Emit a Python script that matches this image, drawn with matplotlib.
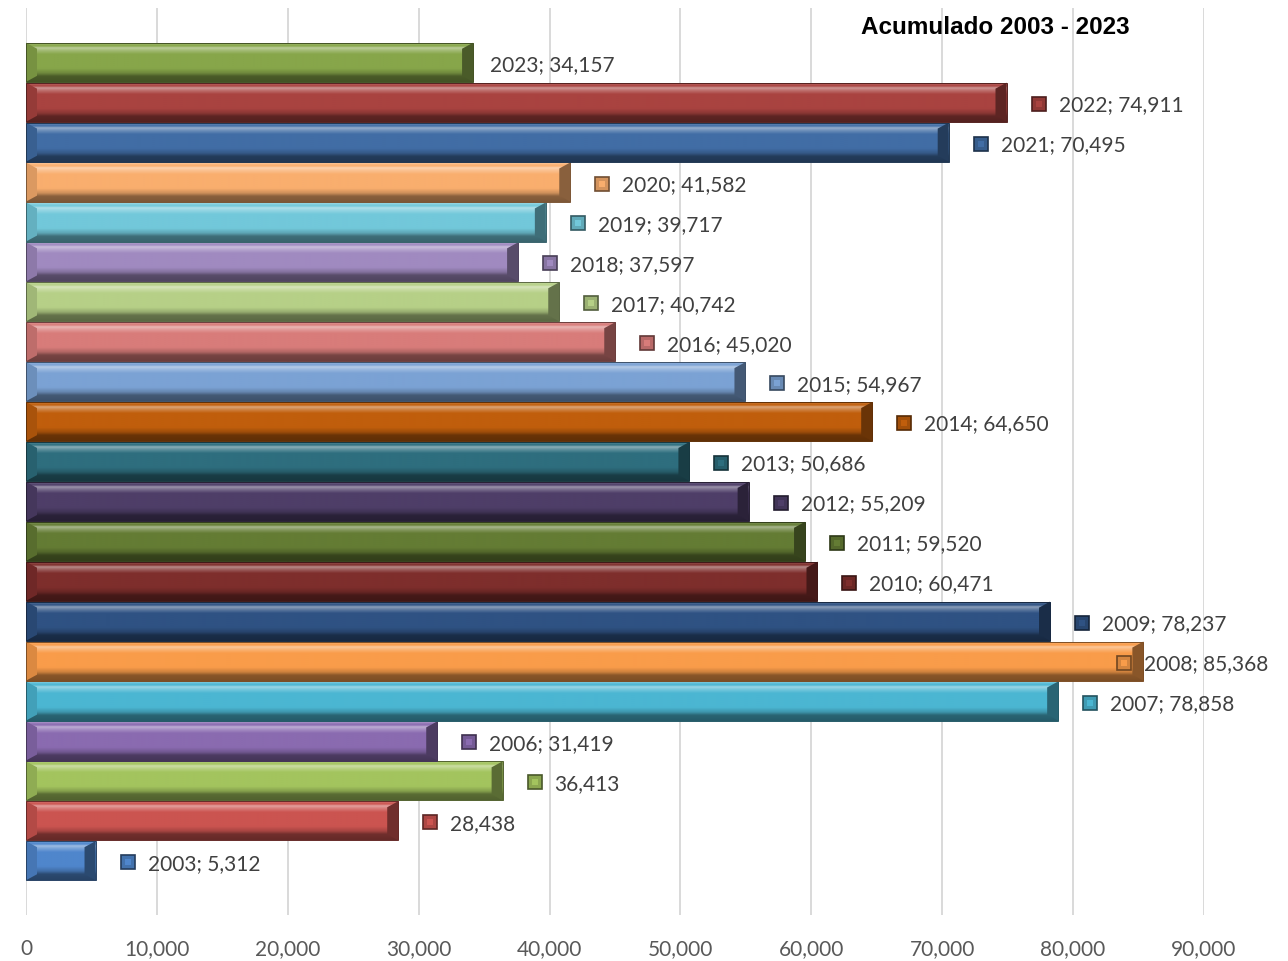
import matplotlib
matplotlib.use("Agg")
import matplotlib.pyplot as plt
import matplotlib.transforms as mtransforms
from matplotlib.colors import to_rgb
from matplotlib.patches import Polygon
import numpy as np

years = list(range(2003, 2024))
values = [5312, 28438, 36413, 31419, 78858, 85368, 78237, 60471, 59520, 55209,
          50686, 64650, 54967, 45020, 40742, 37597, 39717, 41582, 70495, 74911, 34157]
labels = ["2003; 5,312", "28,438", "36,413", "2006; 31,419", "2007; 78,858",
          "2008; 85,368", "2009; 78,237", "2010; 60,471", "2011; 59,520",
          "2012; 55,209", "2013; 50,686", "2014; 64,650", "2015; 54,967",
          "2016; 45,020", "2017; 40,742", "2018; 37,597", "2019; 39,717",
          "2020; 41,582", "2021; 70,495", "2022; 74,911", "2023; 34,157"]
show_key = [True] * 20 + [False]
colors = ["#4F86CC", "#CB5450", "#A3C45E", "#8A6BB0", "#4BB6D2", "#F99C4A",
          "#2F5283", "#7E2E2C", "#647C34", "#4E3E68", "#2E6E7E", "#C05E0C",
          "#7BA2D4", "#D87C7A", "#B6D087", "#A08AC0", "#72C8DA", "#F9AE6E",
          "#416DA5", "#A94340", "#87A64A"]
xticks = [0, 10000, 20000, 30000, 40000, 50000, 60000, 70000, 80000, 90000]

W, H, DPI = 1288, 961, 100
plt.rcParams["font.family"] = ["Lato", "DejaVu Sans"]


def mix(c, other, t):
    c = np.array(to_rgb(c))
    return tuple(c * (1 - t) + np.array(other) * t)


def light(c, t):
    return mix(c, (1, 1, 1), t)


def dark(c, t):
    return mix(c, (0, 0, 0), t)


fig = plt.figure(figsize=(W / DPI, H / DPI), dpi=DPI)
ax = fig.add_axes([26 / W, 1 - 915 / H, (1204 - 26) / W, (915 - 8) / H])

xmax = 90000
ymin, ymax = -1.36, len(years) - 1 + 1.36
ax.set_xlim(0, xmax)
ax.set_ylim(ymin, ymax)

ax_w_px = (1204 - 26)
ax_h_px = (915 - 8)
px_x = xmax / ax_w_px
px_y = (ymax - ymin) / ax_h_px

h = 0.98
ypos = np.arange(len(years))
bars = ax.barh(ypos, values, height=h, color=colors, zorder=2, linewidth=0)

# vertical shading profile (top -> bottom)
prof_pos = [0.0, 0.05, 0.09, 0.14, 0.20, 0.30, 0.66, 0.78, 0.86, 1.0]
prof_mix = [0.40, 0.1, 0.0, 0.45, 0.25, 0.0, 0.0, -0.18, -0.45, -0.5]
rows = np.linspace(0, 1, 60)
prof = np.interp(rows, prof_pos, prof_mix)

dx = 11 * px_x
dy = 6 * px_y
for b, c, v, y in zip(bars, colors, values, ypos):
    img = np.array([light(c, t) if t >= 0 else dark(c, -t) for t in prof])
    img = img.reshape(-1, 1, 3)
    y0, y1 = y - h / 2, y + h / 2
    im = ax.imshow(img, extent=(0, v, y0, y1), aspect="auto", zorder=3,
                   interpolation="bilinear")
    im.set_clip_path(b)
    left = Polygon([(0, y0), (0, y1), (dx, y1 - dy), (dx, y0 + dy)],
                   closed=True, facecolor=dark(c, 0.12), lw=0, zorder=4)
    right = Polygon([(v, y0), (v, y1), (v - dx, y1 - dy), (v - dx, y0 + dy)],
                    closed=True, facecolor=dark(c, 0.45), lw=0, zorder=4)
    ax.add_patch(left)
    ax.add_patch(right)
    ax.add_patch(Polygon([(0, y0), (v, y0), (v, y1), (0, y1)], closed=True,
                         fill=False, edgecolor=dark(c, 0.5), lw=0.7, zorder=5))

ax.set_xlim(0, xmax)
ax.set_ylim(ymin, ymax)

ax.set_xticks(xticks)
ax.set_xticklabels([f"{t:,}" for t in xticks], fontsize=15, color="#595959")
ax.set_yticks([])
ax.tick_params(axis="x", length=0, pad=17)
ax.grid(axis="x", color="#D9D9D9", linewidth=1.4, zorder=0)
ax.set_axisbelow(True)
for s in ax.spines.values():
    s.set_visible(False)

# data labels with small keys
fig.canvas.draw()
renderer = fig.canvas.get_renderer()
limit = W - 20
for c, v, y, lab, key in zip(colors, values, ypos, labels, show_key):
    text_off = 52 if key else 17
    t = ax.annotate(lab, xy=(v, y), xytext=(text_off, -3), textcoords="offset pixels",
                    ha="left", va="center", fontsize=15, color="#404040", zorder=6)
    bb = t.get_window_extent(renderer)
    shift = max(0, bb.x1 - limit)
    if shift > 0:
        t.xyann = (text_off - shift, -3)
    if key:
        tr = mtransforms.offset_copy(ax.transData, fig=fig, x=32 - shift, y=-1.5,
                                     units="dots")
        ax.plot([v], [y], marker="s", markersize=10, markerfacecolor=dark(c, 0.15),
                markeredgecolor=dark(c, 0.55), markeredgewidth=1.2,
                transform=tr, clip_on=False, zorder=7)
        ax.plot([v], [y], marker="s", markersize=4.5, markerfacecolor=c,
                markeredgewidth=0, transform=tr, clip_on=False, zorder=8)

fig.text(995 / W, 1 - 28 / H, "Acumulado 2003 - 2023", ha="center", va="center",
         fontsize=17.5, fontweight="bold", family="Liberation Sans", color="black")

fig.savefig("out.png", dpi=DPI)
